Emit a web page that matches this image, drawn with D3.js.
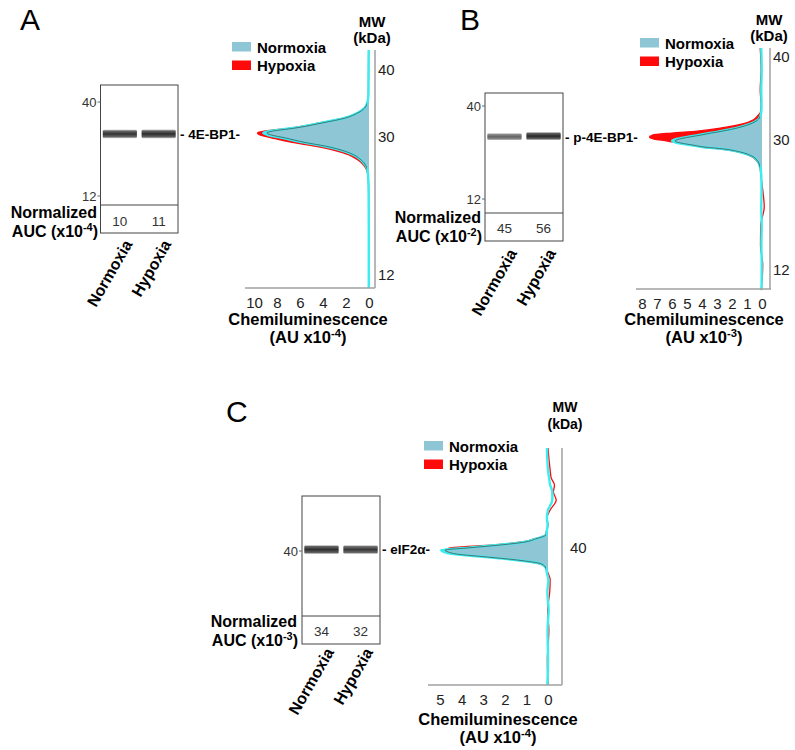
<!DOCTYPE html>
<html><head><meta charset="utf-8">
<script src="https://cdn.jsdelivr.net/npm/d3@7"></script>
<style>body{margin:0;background:#fff} svg{display:block;font-family:"Liberation Sans",Arial,Helvetica,sans-serif}</style>
</head><body><svg id="fig" width="795" height="750"></svg>
<script>
// ---------------- DATA ----------------
const lanes = ["Normoxia", "Hypoxia"];
const legendNames = ["Normoxia", "Hypoxia"];

// Panel A : 4E-BP1 (AU x10^-4)
const mwA   = [43.0,36.3,35.1,34.3,33.6,32.8,32.1,31.3,30.9,30.6,30.3,29.9,29.3,28.8,28.3,27.7,27.0,26.3,25.4,23.7,21.8,17.9,14.0,10.3];
const normA = [0.03,0.05,0.15,0.4,1.0,2.2,4.2,6.8,8.6,9.2,8.8,7.6,5.8,3.9,2.5,1.4,0.7,0.3,0.1,0.04,0.03,0.02,0.02,0.02];
const hypA  = [0.03,0.05,0.15,0.4,1.0,2.2,4.3,7.0,9.0,9.7,9.5,8.5,6.7,4.7,3.1,1.8,0.95,0.45,0.14,0.04,0.03,0.02,0.02,0.02];
const aucA = [10, 11];
const bandMwA = [30.6, 30.6];
const bandIntA = [0.92, 0.95];
const xTicksA = [10, 8, 6, 4, 2, 0];
const mwTicksA = [40, 30, 12];
const blotTicksA = [40, 12];

// Panel B : p-4E-BP1 (AU x10^-3)
const mwB   = [41.08,38.43,36.02,34.22,33.37,32.89,32.41,31.93,31.45,31.08,30.84,30.60,30.36,30.12,29.86,29.58,29.31,29.03,28.75,28.34,27.78,27.23,26.40,25.15,23.07,20.72,18.23,15.46,12.69,9.22];
const normB = [0.05,0.02,0.05,0.03,0.05,0.12,0.3,0.8,1.7,2.7,3.5,4.2,5.0,5.7,6.0,5.6,4.8,4.0,2.6,1.5,0.7,0.35,0.15,0.05,0.03,0.05,0.02,0.04,0.02,0.03];
const hypB  = [0.12,0.06,0.12,0.06,0.1,0.3,0.6,1.3,2.7,4.3,6.0,7.3,7.5,7.2,6.3,5.6,4.8,4.0,2.7,1.6,0.75,0.4,0.15,0.08,-0.05,-0.15,0.08,0.1,-0.05,0.05];
const aucB = [45, 56];
const bandMwB = [30.4, 30.6];
const bandIntB = [0.7, 0.97];
const xTicksB = [8, 7, 6, 5, 4, 3, 2, 1, 0];
const mwTicksB = [40, 30, 12];
const blotTicksB = [40, 12];

// Panel C : eIF2alpha (AU x10^-4)
const mwC   = [54.29,52.57,51.14,50.0,49.0,48.0,46.86,45.43,44.29,43.29,42.57,41.86,41.29,40.86,40.43,40.0,39.71,39.43,39.14,38.71,38.29,37.71,37.14,36.43,35.43,33.71,31.14,28.29,24.0,20.43];
const normC = [0.05,0.03,0.0,-0.05,-0.1,-0.2,-0.2,0.0,0.05,0.02,0.05,0.1,0.6,1.1,2.3,3.9,4.95,4.8,4.4,2.9,1.5,0.3,0.1,0.05,-0.02,0.03,-0.03,0.02,0.0,0.03];
const hypC  = [0.0,-0.05,-0.1,-0.15,-0.3,-0.25,-0.38,-0.1,0.05,0.0,0.06,0.12,0.65,1.2,2.5,4.6,4.6,4.3,3.8,2.7,1.4,0.35,0.1,0.0,-0.1,-0.08,0.02,-0.04,0.03,0.0];
const aucC = [34, 32];
const bandMwC = [40.4, 40.4];
const bandIntC = [0.95, 0.9];
const xTicksC = [5, 4, 3, 2, 1, 0];
const mwTicksC = [40];
const blotTicksC = [40];

// ---------------- STYLE ----------------
const BLUE = "#8fc6d6", CYAN = "#38eef0", RED = "#ff0a0a", AXIS = "#a0a0a0";
const svg = d3.select("#fig");
const defs = svg.append("defs");
const grad = defs.append("linearGradient").attr("id", "bandGrad")
  .attr("x1", 0).attr("y1", 0).attr("x2", 0).attr("y2", 1);
[[0, "#888", 0], [0.18, "#4a4a4a", 0.9], [0.5, "#222", 1], [0.82, "#4a4a4a", 0.9], [1, "#888", 0]]
  .forEach(([o, c, a]) => grad.append("stop").attr("offset", o).attr("stop-color", c).attr("stop-opacity", a));
defs.append("filter").attr("id", "soft").attr("x", "-10%").attr("y", "-50%").attr("width", "120%").attr("height", "200%")
  .append("feGaussianBlur").attr("stdDeviation", 0.5);

function supText(g, x, y, base, sup, tail, size, anchor) {
  const t = g.append("text").attr("x", x).attr("y", y).attr("font-size", size)
    .attr("font-weight", "bold").attr("text-anchor", anchor).attr("fill", "#000");
  t.append("tspan").text(base);
  t.append("tspan").attr("dy", -6).attr("font-size", size * 0.68).text(sup);
  t.append("tspan").attr("dy", 6).text(tail);
}

let panelCount = 0;
function drawPanel(P) {
  const pid = "p" + (panelCount++);
  const g = svg.append("g");
  g.append("text").attr("x", P.letter[0]).attr("y", P.letter[1]).attr("font-size", 30).text(P.letter[2]);

  // ---- blot ----
  const b = P.box;
  const lane = d3.scaleBand().domain(lanes).range([b.x0 + 1.5, b.x1 - 1.5]).paddingInner(0.12).paddingOuter(0.02);
  g.append("rect").attr("x", b.x0).attr("y", b.y0).attr("width", b.x1 - b.x0).attr("height", b.y1 - b.y0)
    .attr("fill", "#fff").attr("stroke", "#444").attr("stroke-width", 1);
  g.append("line").attr("x1", b.x0).attr("x2", b.x1).attr("y1", b.div).attr("y2", b.div).attr("stroke", "#444");
  const bh = i => P.bandH * (0.55 + 0.45 * P.bandInt[i]);
  g.selectAll(null).data(lanes).enter().append("rect")
    .attr("x", d => lane(d)).attr("width", lane.bandwidth())
    .attr("y", (d, i) => P.blotY(P.bandMw[i]) - bh(i) / 2).attr("height", (d, i) => bh(i))
    .attr("rx", 2).attr("fill", "url(#bandGrad)").attr("opacity", (d, i) => P.bandInt[i])
    .attr("filter", "url(#soft)");
  const bt = g.selectAll(null).data(P.blotTicks).enter().append("g")
    .attr("transform", d => `translate(${b.x0},${P.blotY(d)})`);
  bt.append("line").attr("x1", -3).attr("x2", 0).attr("stroke", "#666");
  bt.append("text").attr("x", -4).attr("dy", "0.35em").attr("text-anchor", "end")
    .attr("font-size", 13).attr("fill", "#333").text(d => d);
  g.selectAll(null).data(lanes).enter().append("text")
    .attr("x", d => lane(d) + lane.bandwidth() / 2).attr("y", P.aucY).attr("text-anchor", "middle")
    .attr("font-size", 13.5).attr("fill", "#333").text((d, i) => P.auc[i]);
  g.append("text").attr("x", P.normLbl.x).attr("y", P.normLbl.y1).attr("text-anchor", "end")
    .attr("font-size", 16).attr("font-weight", "bold").text("Normalized");
  supText(g, P.normLbl.x + 1, P.normLbl.y2, P.normLbl.base, P.normLbl.exp, ")", 16, "end");
  g.selectAll(null).data(lanes).enter().append("text")
    .attr("transform", d => `translate(${lane(d) + lane.bandwidth() / 2 + P.laneLbl.dx},${P.laneLbl.y}) rotate(-60)`)
    .attr("text-anchor", "end").attr("font-size", 16).attr("font-weight", "bold").text(d => d);
  g.append("text").attr("x", P.target.x).attr("y", P.blotY(P.bandMw[0])).attr("dy", "0.36em")
    .attr("font-size", 13.5).attr("font-weight", "bold").text(P.target.t);

  // ---- electropherogram ----
  const x = P.x, y = P.y;
  const xr = x.range();
  const xIn = x.copy().range([xr[0], xr[1] + (xr[0] > xr[1] ? 4 : -4)]);
  const pts = P.mw.map((m, i) => ({ mw: m, n: P.norm[i], h: P.hyp[i] }));
  const area = key => d3.area().curve(d3.curveMonotoneY).y(d => y(d.mw)).x0(x(0)).x1(d => x(Math.max(0, d[key])));
  const line = (key, sc) => d3.line().curve(d3.curveMonotoneY).y(d => y(d.mw)).x(d => sc(d[key]));
  defs.append("clipPath").attr("id", pid + "clip").append("rect")
    .attr("x", P.xAxis.x0 - 20).attr("y", P.yAxis.y0 - 10)
    .attr("width", x(0) - 2 - (P.xAxis.x0 - 20)).attr("height", P.yAxis.y1 - P.yAxis.y0 + 20);
  g.append("path").datum(pts).attr("d", area("h")).attr("fill", RED);
  g.append("path").datum(pts).attr("d", line("h", x)).attr("fill", "none").attr("stroke", RED).attr("stroke-width", 1.3);
  g.append("path").datum(pts).attr("d", area("n")).attr("fill", BLUE);
  g.append("path").datum(pts).attr("d", line("n", x)).attr("fill", "none").attr("stroke", CYAN).attr("stroke-width", 2.4);
  g.append("path").datum(pts).attr("d", line("n", xIn)).attr("fill", "none").attr("stroke", "#505050")
    .attr("stroke-width", 0.8).attr("clip-path", `url(#${pid}clip)`);

  g.append("line").attr("x1", P.yAxis.x).attr("x2", P.yAxis.x).attr("y1", P.yAxis.y0).attr("y2", P.yAxis.y1)
    .attr("stroke", AXIS).attr("stroke-width", 1.5);
  g.append("line").attr("x1", P.xAxis.x0).attr("x2", P.xAxis.x1).attr("y1", P.xAxis.y).attr("y2", P.xAxis.y)
    .attr("stroke", AXIS).attr("stroke-width", 1.5);
  const ay = g.append("g").attr("transform", `translate(${P.yAxis.x},0)`)
    .call(d3.axisRight(y).tickValues(P.mwTicks).tickSize(0).tickPadding(P.yPad).tickFormat(d3.format("d")));
  ay.select(".domain").remove();
  ay.selectAll("text").attr("font-size", 15).attr("fill", "#222").attr("font-family", null);
  const ax = g.append("g").attr("transform", `translate(0,${P.xAxis.y})`)
    .call(d3.axisBottom(x).tickValues(P.xTicks).tickSize(0).tickPadding(9).tickFormat(d3.format("d")));
  ax.select(".domain").remove();
  ax.selectAll("text").attr("font-size", 15).attr("fill", "#222").attr("font-family", null);

  g.append("text").attr("x", P.chemi.x).attr("y", P.chemi.y1).attr("text-anchor", "middle")
    .attr("font-size", 16.5).attr("font-weight", "bold").text("Chemiluminescence");
  supText(g, P.chemi.x, P.chemi.y2, "(AU x10", P.chemi.exp, ")", 16.5, "middle");

  g.append("text").attr("x", P.mwLbl.x).attr("y", P.mwLbl.y1).attr("text-anchor", "middle")
    .attr("font-size", P.mwLbl.size).attr("font-weight", "bold").text("MW");
  g.append("text").attr("x", P.mwLbl.x).attr("y", P.mwLbl.y2).attr("text-anchor", "middle")
    .attr("font-size", P.mwLbl.size).attr("font-weight", "bold").text("(kDa)");

  const lg = g.append("g").attr("transform", `translate(${P.legend[0]},${P.legend[1]})`);
  const lcol = [BLUE, RED];
  const li = lg.selectAll(null).data(legendNames).enter().append("g")
    .attr("transform", (d, i) => `translate(0,${i * 18.5})`);
  li.append("rect").attr("width", 19).attr("height", 9.5).attr("fill", (d, i) => lcol[i]);
  li.append("text").attr("x", 25).attr("y", 10.5).attr("font-size", 15).attr("font-weight", "bold").text(d => d);
}

// ---------------- PANELS ----------------
drawPanel({
  letter: [20, 30, "A"],
  box: { x0: 100.5, x1: 178, y0: 85, y1: 233, div: 205 },
  blotY: d3.scaleLinear().domain([12, 30, 40]).range([196, 136, 102]),
  bandMw: bandMwA, bandInt: bandIntA, bandH: 10, blotTicks: blotTicksA, auc: aucA, aucY: 226,
  normLbl: { x: 97, y1: 218, y2: 237, base: "AUC  (x10", exp: "-4" },
  laneLbl: { dx: 13, y: 244 },
  target: { x: 180, t: "- 4E-BP1-" },
  mw: mwA, norm: normA, hyp: hypA,
  x: d3.scaleLinear().domain([0, 10]).range([369, 254]),
  y: d3.scaleLinear().domain([12, 30, 40]).range([275, 137, 70]),
  xTicks: xTicksA, mwTicks: mwTicksA, yPad: 3,
  xAxis: { x0: 245, x1: 375, y: 288 }, yAxis: { x: 375, y0: 50, y1: 288 },
  chemi: { x: 308, y1: 325, y2: 343, exp: "-4" },
  mwLbl: { x: 372, y1: 27, y2: 43, size: 15 },
  legend: [232, 42]
});

drawPanel({
  letter: [460, 30, "B"],
  box: { x0: 485, x1: 563, y0: 93, y1: 241, div: 213 },
  blotY: d3.scaleLinear().domain([12, 30, 40]).range([199, 138, 106]),
  bandMw: bandMwB, bandInt: bandIntB, bandH: 9, blotTicks: blotTicksB, auc: aucB, aucY: 233,
  normLbl: { x: 481, y1: 223, y2: 242, base: "AUC (x10", exp: "-2" },
  laneLbl: { dx: 13, y: 253 },
  target: { x: 565, t: "- p-4E-BP1-" },
  mw: mwB, norm: normB, hyp: hypB,
  x: d3.scaleLinear().domain([0, 8]).range([762, 642]),
  y: d3.scaleLinear().domain([12, 30, 40]).range([270, 140, 57]),
  xTicks: xTicksB, mwTicks: mwTicksB, yPad: 3,
  xAxis: { x0: 636, x1: 771, y: 289 }, yAxis: { x: 770, y0: 48, y1: 289 },
  chemi: { x: 704, y1: 325, y2: 343, exp: "-3" },
  mwLbl: { x: 769, y1: 25, y2: 41, size: 15 },
  legend: [640, 38]
});

drawPanel({
  letter: [226, 422, "C"],
  box: { x0: 302, x1: 380, y0: 496, y1: 644, div: 616 },
  blotY: d3.scaleLinear().domain([40, 50]).range([551, 516]),
  bandMw: bandMwC, bandInt: bandIntC, bandH: 10, blotTicks: blotTicksC, auc: aucC, aucY: 636,
  normLbl: { x: 297, y1: 627, y2: 646, base: "AUC (x10", exp: "-3" },
  laneLbl: { dx: 13, y: 652 },
  target: { x: 382, t: "- eIF2α-" },
  mw: mwC, norm: normC, hyp: hypC,
  x: d3.scaleLinear().domain([0, 5]).range([548, 440]),
  y: d3.scaleLinear().domain([20.43, 54.29]).range([685, 448]),
  xTicks: xTicksC, mwTicks: mwTicksC, yPad: 8,
  xAxis: { x0: 428, x1: 562, y: 685 }, yAxis: { x: 562, y0: 448, y1: 685 },
  chemi: { x: 498, y1: 725, y2: 743, exp: "-4" },
  mwLbl: { x: 565, y1: 412, y2: 429, size: 14 },
  legend: [424, 441]
});
</script>
</body></html>
